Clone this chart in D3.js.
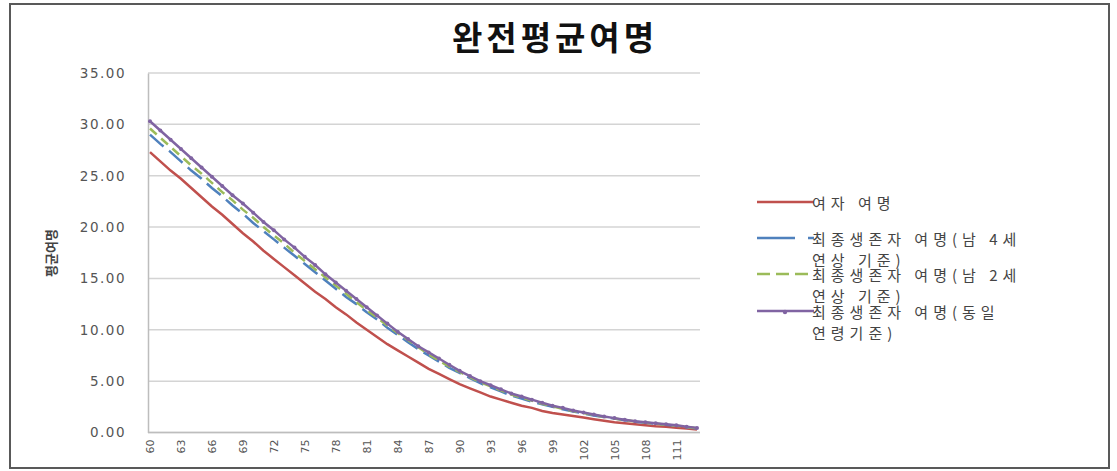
<!DOCTYPE html>
<html>
<head>
<meta charset="utf-8">
<script src="https://cdn.jsdelivr.net/npm/d3@7"></script>
<style>
  body { margin: 0; background: #fff; }
</style>
</head>
<body>
<div id="chart"></div>
<script>
///// DATA /////
var ages = d3.range(60, 114);
var xTickLabels = [60, 63, 66, 69, 72, 75, 78, 81, 84, 87, 90, 93, 96, 99, 102, 105, 108, 111];
var yTicks = [0, 5, 10, 15, 20, 25, 30, 35];

var seriesNames = ["여자 여명", "최종생존자 여명(남 4세 연상 기준)", "최종생존자 여명(남 2세 연상 기준)", "최종생존자 여명(동일 연령기준)"];

var womanLife = [27.3, 26.4, 25.5, 24.7, 23.8, 22.9, 22.0, 21.2, 20.3, 19.4,
  18.6, 17.7, 16.9, 16.1, 15.3, 14.5, 13.7, 13.0, 12.2, 11.5,
  10.7, 10.0, 9.3, 8.6, 8.0, 7.4, 6.8, 6.2, 5.7, 5.2,
  4.7, 4.3, 3.9, 3.5, 3.2, 2.9, 2.6, 2.4, 2.1, 1.9,
  1.75, 1.6, 1.45, 1.3, 1.15, 1.0, 0.9, 0.8, 0.7, 0.6,
  0.55, 0.45, 0.4, 0.3];

var lastSurvivor4 = [29.0, 28.1, 27.3, 26.4, 25.5, 24.7, 23.8, 23.0, 22.1, 21.3,
  20.4, 19.6, 18.8, 18.0, 17.2, 16.4, 15.6, 14.8, 14.0, 13.2,
  12.5, 11.7, 11.0, 10.2, 9.5, 8.8, 8.1, 7.5, 6.9, 6.3,
  5.8, 5.3, 4.8, 4.4, 4.0, 3.6, 3.3, 3.0, 2.75, 2.5,
  2.25, 2.05, 1.85, 1.65, 1.5, 1.35, 1.2, 1.05, 0.95, 0.85,
  0.75, 0.65, 0.5, 0.4];

var lastSurvivor2 = [29.6, 28.7, 27.8, 26.9, 26.0, 25.2, 24.3, 23.4, 22.6, 21.7,
  20.9, 20.0, 19.2, 18.4, 17.5, 16.7, 15.9, 15.1, 14.3, 13.5,
  12.7, 11.9, 11.2, 10.4, 9.7, 9.0, 8.3, 7.6, 7.0, 6.4,
  5.9, 5.4, 4.9, 4.5, 4.1, 3.7, 3.4, 3.1, 2.8, 2.55,
  2.3, 2.1, 1.9, 1.7, 1.52, 1.37, 1.22, 1.08, 0.97, 0.86,
  0.76, 0.66, 0.52, 0.42];

var lastSurvivorSame = [30.3, 29.4, 28.5, 27.6, 26.7, 25.8, 24.9, 24.0, 23.1, 22.3,
  21.4, 20.5, 19.7, 18.8, 18.0, 17.1, 16.3, 15.4, 14.6, 13.8,
  13.0, 12.2, 11.4, 10.6, 9.8, 9.1, 8.4, 7.8, 7.2, 6.6,
  6.0, 5.5, 5.0, 4.6, 4.2, 3.8, 3.5, 3.2, 2.9, 2.6,
  2.4, 2.15, 1.95, 1.75, 1.55, 1.4, 1.25, 1.1, 1.0, 0.9,
  0.8, 0.7, 0.55, 0.45];

var width = 1117;
var height = 471;

var svg = d3.select("#chart").append("svg")
  .attr("width", width)
  .attr("height", height)
  .style("font-family", "'Noto Sans CJK KR', 'DejaVu Sans', sans-serif");

svg.append("rect")
  .attr("width", width)
  .attr("height", height)
  .attr("fill", "#fff");

// outer frame
svg.append("rect")
  .attr("x", 10)
  .attr("y", 4)
  .attr("width", 1099)
  .attr("height", 464)
  .attr("fill", "none")
  .attr("stroke", "#595959")
  .attr("stroke-width", 2);

// title
svg.append("text")
  .attr("x", 555)
  .attr("y", 50)
  .attr("text-anchor", "middle")
  .style("font-size", "33px")
  .style("font-weight", "bold")
  .style("letter-spacing", "4px")
  .attr("fill", "#111")
  .text("완전평균여명");

var plot = { left: 148, right: 700, top: 73, bottom: 432.5 };

var x = d3.scalePoint()
  .domain(ages)
  .range([150, 697]);

var y = d3.scaleLinear()
  .domain([0, 35])
  .range([plot.bottom, plot.top]);

// gridlines
svg.append("g")
  .selectAll("line")
  .data(yTicks)
  .join("line")
  .attr("x1", plot.left)
  .attr("x2", plot.right)
  .attr("y1", d => y(d))
  .attr("y2", d => y(d))
  .attr("stroke", "#d4d4d4")
  .attr("stroke-width", 1.5);

// y axis
var yAxis = svg.append("g")
  .attr("transform", "translate(" + plot.left + ",0)")
  .call(d3.axisLeft(y).tickValues(yTicks).tickFormat(d3.format(".2f")).tickSize(0).tickPadding(22));
yAxis.select(".domain").attr("stroke", "#bdbdbd").attr("stroke-width", 1.5);
yAxis.selectAll("text")
  .style("font-family", "'DejaVu Sans', sans-serif")
  .style("font-size", "13.5px")
  .style("letter-spacing", "1.5px")
  .attr("fill", "#555");

// x axis
var xAxis = svg.append("g")
  .attr("transform", "translate(0," + plot.bottom + ")")
  .call(d3.axisBottom(x).tickValues(xTickLabels).tickSize(0).tickPadding(0));
xAxis.select(".domain").remove();
svg.append("line")
  .attr("x1", plot.left).attr("x2", plot.right)
  .attr("y1", plot.bottom).attr("y2", plot.bottom)
  .attr("stroke", "#bdbdbd").attr("stroke-width", 1.5);
xAxis.selectAll("text")
  .style("font-family", "'DejaVu Sans', sans-serif")
  .style("font-size", "11px")
  .attr("fill", "#555")
  .attr("text-anchor", "end")
  .attr("dy", "0.35em")
  .attr("transform", "translate(0,7) rotate(-90)")
  .attr("x", 0)
  .attr("y", 0);

// y axis title
svg.append("text")
  .attr("transform", "translate(56,253) rotate(-90)")
  .attr("text-anchor", "middle")
  .style("font-size", "13px")
  .style("font-weight", "bold")
  .attr("fill", "#444")
  .text("평균여명");

// lines
var line = d3.line()
  .x((d, i) => x(ages[i]))
  .y(d => y(d));

var series = [
  { name: seriesNames[0], values: womanLife, color: "#C0504D", dash: null, width: 2.5 },
  { name: seriesNames[1], values: lastSurvivor4, color: "#4F81BD", dash: "18,7", width: 2.5 },
  { name: seriesNames[2], values: lastSurvivor2, color: "#9BBB59", dash: "9,6", width: 2.5 },
  { name: seriesNames[3], values: lastSurvivorSame, color: "#8064A2", dash: null, width: 2.5, markers: true }
];

svg.append("g")
  .selectAll("path")
  .data(series)
  .join("path")
  .attr("d", d => line(d.values))
  .attr("fill", "none")
  .attr("stroke", d => d.color)
  .attr("stroke-width", d => d.width)
  .attr("stroke-dasharray", d => d.dash);

// purple markers
svg.append("g")
  .selectAll("circle")
  .data(lastSurvivorSame)
  .join("circle")
  .attr("cx", (d, i) => x(ages[i]))
  .attr("cy", d => y(d))
  .attr("r", 2)
  .attr("fill", "#8064A2");

// legend
var legendRows = [
  { lines: ["여자 여명"], y: 202 },
  { lines: ["최종생존자 여명(남 4세", "연상 기준)"], y: 238 },
  { lines: ["최종생존자 여명(남 2세", "연상 기준)"], y: 274 },
  { lines: ["최종생존자 여명(동일", "연령기준)"], y: 311 }
];

var legend = svg.append("g");
legendRows.forEach(function (row, i) {
  var s = series[i];
  legend.append("line")
    .attr("x1", 757).attr("x2", 814)
    .attr("y1", row.y).attr("y2", row.y)
    .attr("stroke", s.color)
    .attr("stroke-width", 2.5)
    .attr("stroke-dasharray", i === 1 ? "38,13" : s.dash ? "13,6" : null);
  if (s.markers) {
    legend.append("circle")
      .attr("cx", 785).attr("cy", row.y + 1).attr("r", 2.2).attr("fill", s.color);
  }
  var t = legend.append("text")
    .attr("x", 812)
    .attr("y", row.y + 7)
    .style("font-size", "15px")
    .style("letter-spacing", "5px")
    .attr("fill", "#444");
  row.lines.forEach(function (ln, j) {
    t.append("tspan")
      .attr("x", 812)
      .attr("dy", j === 0 ? 0 : 21)
      .text(ln);
  });
});
</script>
</body>
</html>
